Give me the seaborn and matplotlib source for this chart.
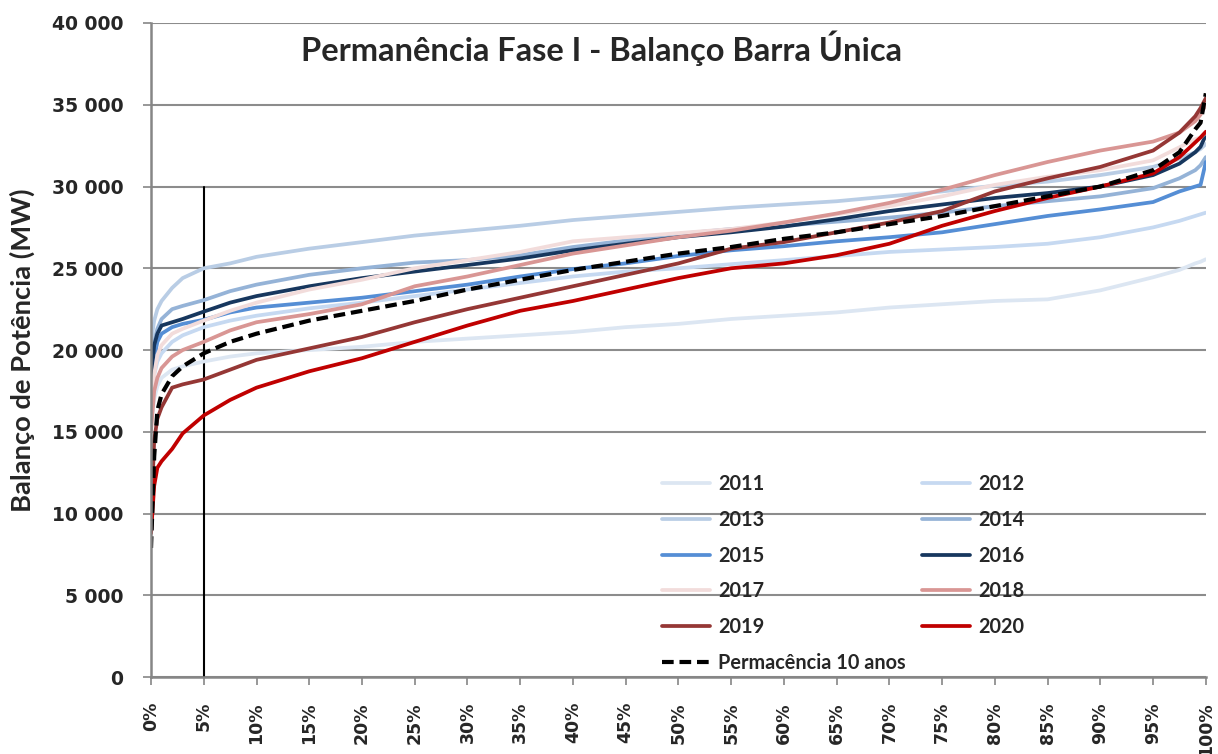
import numpy as np
import pandas as pd
import matplotlib
matplotlib.use("Agg")
import matplotlib.pyplot as plt
from matplotlib.ticker import FuncFormatter, FixedLocator
import seaborn as sns

# ---- data ----
pct = [0, 0.3, 0.6, 1, 2, 3, 5, 7.5, 10, 15, 20, 25, 30, 35, 40, 45, 50, 55, 60,
       65, 70, 75, 80, 85, 90, 95, 97.5, 99, 99.5, 100]

y2011 = [15500, 17000, 17800, 18300, 18800, 19000, 19300, 19600, 19800, 20000, 20200, 20500,
         20700, 20900, 21100, 21400, 21600, 21900, 22100, 22300, 22600, 22800, 23000, 23100,
         23650, 24450, 24900, 25300, 25400, 25550]
y2012 = [17000, 18500, 19300, 19800, 20500, 20900, 21400, 21800, 22100, 22550, 22900, 23300,
         23700, 24100, 24500, 24800, 25000, 25250, 25500, 25750, 26000, 26150, 26300, 26500,
         26900, 27500, 27900, 28200, 28300, 28400]
y2013 = [20500, 21800, 22500, 23000, 23800, 24400, 25000, 25300, 25700, 26200, 26600, 27000,
         27300, 27600, 27950, 28200, 28450, 28700, 28900, 29100, 29400, 29700, 30050, 30300,
         30700, 31200, 31700, 32100, 32300, 32600]
y2014 = [19000, 20500, 21300, 21900, 22500, 22700, 23050, 23600, 24000, 24600, 25000, 25350,
         25500, 25800, 26300, 26700, 27100, 27400, 27600, 27850, 28100, 28400, 28800, 29100,
         29400, 29900, 30500, 31000, 31300, 31800]
y2015 = [17000, 19500, 20500, 21000, 21400, 21600, 21850, 22300, 22600, 22900, 23200, 23600,
         24000, 24500, 24950, 25300, 25750, 26100, 26350, 26650, 26900, 27200, 27700, 28200,
         28600, 29050, 29700, 30000, 30100, 31500]
y2016 = [18200, 20300, 21000, 21500, 21700, 21900, 22350, 22900, 23300, 23900, 24400, 24800,
         25200, 25600, 26100, 26500, 26900, 27200, 27550, 28000, 28500, 28900, 29300, 29600,
         30000, 30700, 31400, 32100, 32430, 33150]
y2017 = [15100, 18500, 19700, 20300, 21000, 21300, 21800, 22400, 22900, 23700, 24300, 25000,
         25500, 26000, 26650, 26900, 27150, 27400, 27800, 28300, 28800, 29400, 30100, 30600,
         31000, 31600, 32400, 32900, 33000, 33300]
y2018 = [15100, 17500, 18300, 18900, 19600, 20000, 20500, 21200, 21700, 22200, 22800, 23900,
         24500, 25200, 25900, 26400, 26900, 27300, 27800, 28350, 29000, 29800, 30700, 31500,
         32200, 32750, 33300, 34000, 34400, 35000]
y2019 = [9500, 14500, 15800, 16500, 17700, 17900, 18200, 18800, 19400, 20100, 20800, 21700,
         22500, 23200, 23900, 24600, 25300, 26200, 26600, 27200, 27800, 28500, 29700, 30500,
         31200, 32200, 33300, 34300, 34800, 35400]
y2020 = [8800, 11700, 12800, 13200, 13950, 14900, 16000, 16950, 17700, 18700, 19500, 20500,
         21500, 22400, 23000, 23700, 24400, 25000, 25300, 25800, 26500, 27600, 28500, 29300,
         30000, 30800, 31800, 32700, 33000, 33350]
y_perm = [7900, 13500, 16300, 17300, 18400, 19000, 19800, 20500, 21000, 21800, 22400, 23000,
          23700, 24300, 24900, 25400, 25900, 26300, 26800, 27200, 27700, 28200, 28800, 29400,
          30000, 31000, 32100, 33500, 33900, 35700]

years = ["2011", "2012", "2013", "2014", "2015", "2016", "2017", "2018", "2019", "2020"]
series = [y2011, y2012, y2013, y2014, y2015, y2016, y2017, y2018, y2019, y2020]
colors = ["#dce6f2", "#c6d9f1", "#b9cde5", "#95b3d7", "#558ed5", "#17375e",
          "#f2dcdb", "#d99694", "#953735", "#c00000"]
perm_label = "Permacência 10 anos"
title = "Permanência Fase I - Balanço Barra Única"
ylabel = "Balanço de Potência (MW)"
xticks = list(range(0, 101, 5))
yticks = list(range(0, 40001, 5000))

# ---- figure ----
sns.set_theme(style="white")
plt.rcParams["font.family"] = ["DejaVu Sans"]

fig = plt.figure(figsize=(12.18, 7.54), dpi=100)
ax = fig.add_axes([0.124, 0.102, 0.866, 0.8675])

df = pd.DataFrame({"pct": np.tile(pct, len(years)),
                   "val": np.concatenate([np.asarray(s, float) for s in series]),
                   "year": np.repeat(years, len(pct))})

for yr, col in zip(years, colors):
    sub = df[df["year"] == yr]
    sns.lineplot(data=sub, x="pct", y="val", color=col, lw=2.7, ax=ax, label=yr,
                 estimator=None, sort=False)
sns.lineplot(x=pct, y=y_perm, color="black", lw=3.0, ax=ax, label=perm_label,
             estimator=None, sort=False, linestyle=(0, (2.8, 1.4)))

# vertical marker at 5%
ax.plot([5, 5], [0, 30000], color="black", lw=1.5, zorder=1)

ax.set_xlim(0, 100)
ax.set_ylim(0, 40000)
ax.xaxis.set_major_locator(FixedLocator(xticks))
ax.yaxis.set_major_locator(FixedLocator(yticks))
ax.set_xticklabels([f"{v}%" for v in xticks], rotation=90, fontsize=12.5, fontweight="bold")
ax.yaxis.set_major_formatter(FuncFormatter(lambda v, p: f"{int(v):,}".replace(",", " ")))
ax.tick_params(axis="y", labelsize=13.5, length=6, color="#868686", width=1.2, pad=14,
               direction="out", left=True)
ax.tick_params(axis="x", length=6, color="#868686", width=1.2, pad=12, direction="out",
               bottom=True)
for lab in ax.get_yticklabels():
    lab.set_fontweight("bold")

ax.grid(axis="y", color="#8c8c8c", lw=1.5)
ax.grid(axis="x", visible=False)
ax.set_axisbelow(True)
for s in ["top", "right"]:
    ax.spines[s].set_visible(False)
for s in ["left", "bottom"]:
    ax.spines[s].set_color("#868686")
    ax.spines[s].set_linewidth(1.8)

ax.set_xlabel("")
ax.set_ylabel(ylabel, fontsize=19.7, fontweight="bold", family=["Lato", "DejaVu Sans"],
              labelpad=12)
ax.text(0.142, 0.962, title, transform=ax.transAxes, fontsize=23.5, fontweight="bold",
        family=["Lato", "DejaVu Sans"], va="center", ha="left")

handles, labels = ax.get_legend_handles_labels()
hmap = dict(zip(labels, handles))
order = ["2011", "2013", "2015", "2017", "2019", perm_label,
         "2012", "2014", "2016", "2018", "2020"]
leg = ax.legend([hmap[k] for k in order], order, ncol=2, frameon=False,
                loc="upper left", bbox_to_anchor=(0.4844, 0.31), borderpad=0,
                borderaxespad=0, handlelength=2.41, handletextpad=0.4, labelspacing=0.79,
                columnspacing=0.85,
                prop={"family": ["Lato", "DejaVu Sans"], "weight": "bold", "size": 14.3})

fig.savefig("out.png", dpi=100)
